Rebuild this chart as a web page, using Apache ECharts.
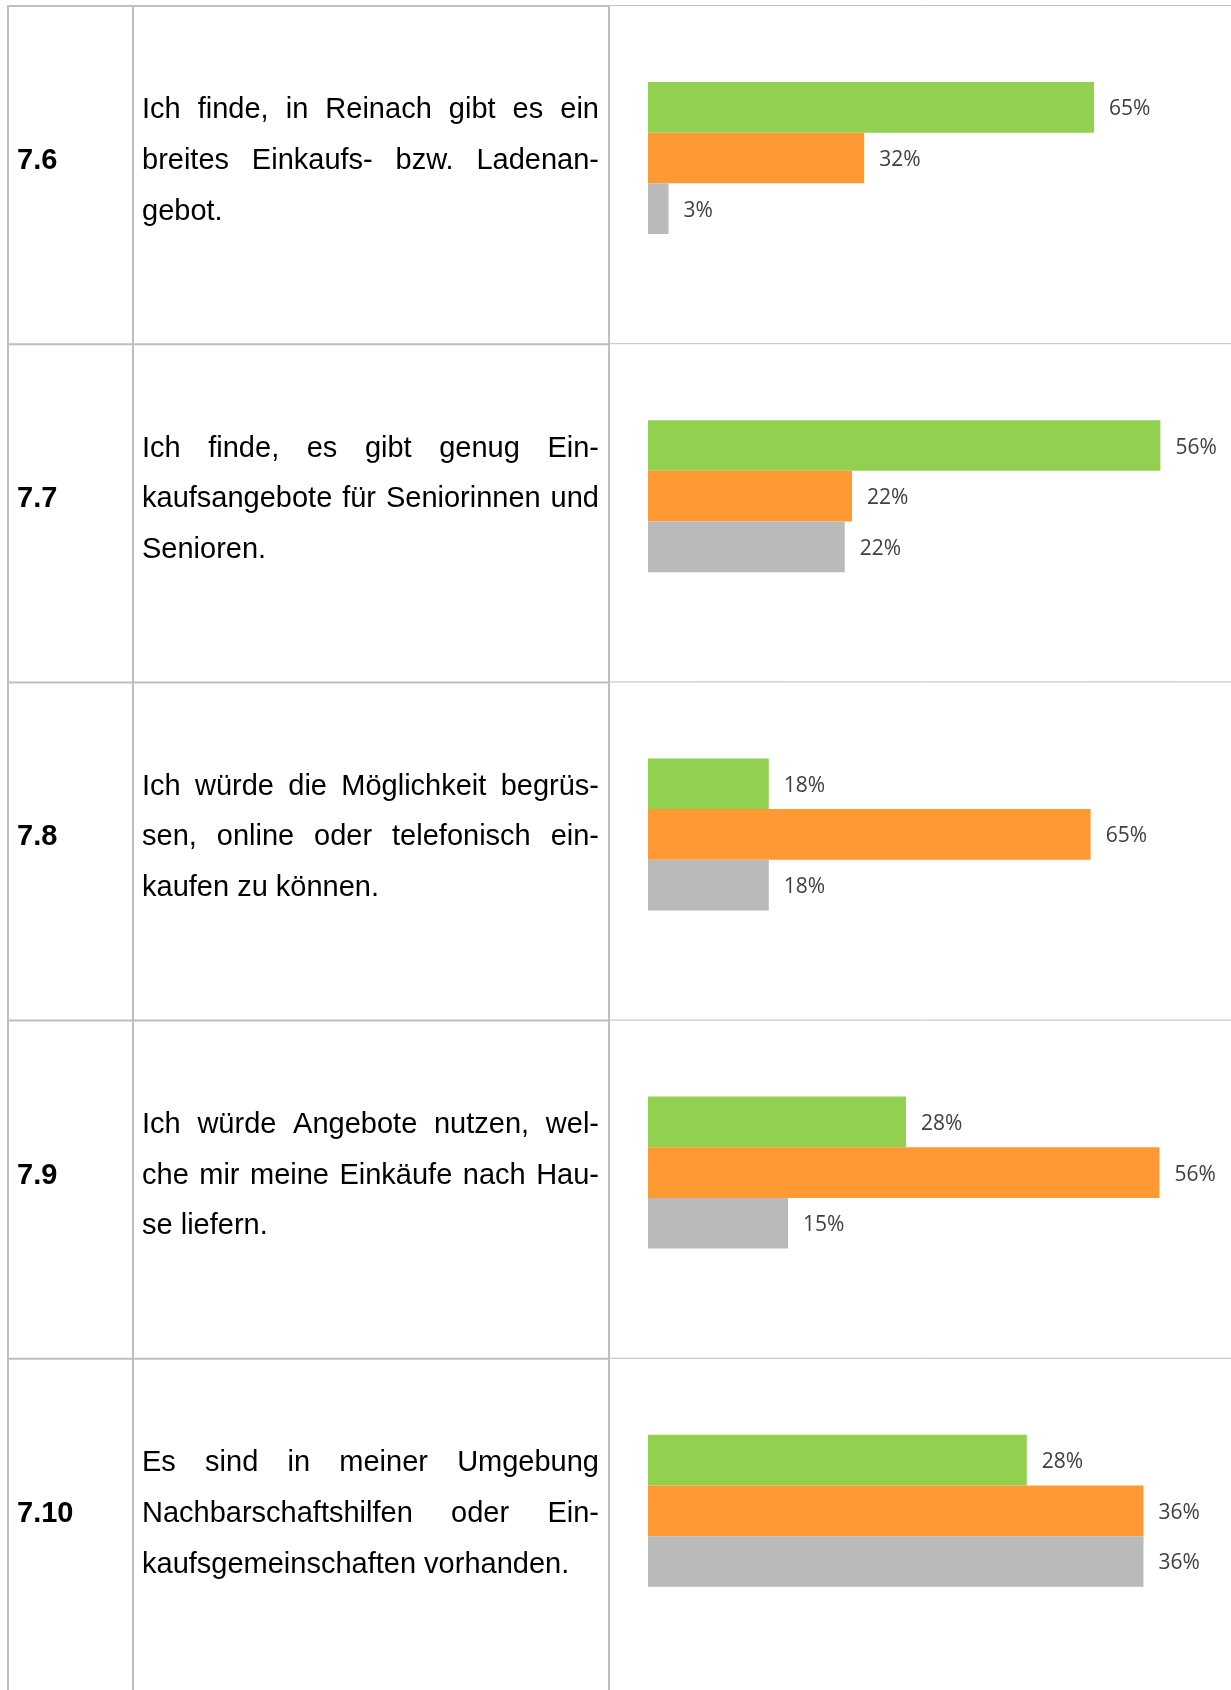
<!DOCTYPE html>
<html>
<head>
<meta charset="utf-8">
<script src="https://cdn.jsdelivr.net/npm/echarts@6/dist/echarts.min.js"></script>
<style>
  html, body { margin: 0; padding: 0; background: #fff; }
  #chart { width: 1231px; height: 1690px; }
</style>
</head>
<body>
<div id="chart"></div>
<script>
// ---- data ----
const itemNumbers = ['7.6', '7.7', '7.8', '7.9', '7.10'];
const statementLines = [
  ['Ich finde, in Reinach gibt es ein', 'breites Einkaufs- bzw. Ladenan-', 'gebot.'],
  ['Ich finde, es gibt genug Ein-', 'kaufsangebote für Seniorinnen und', 'Senioren.'],
  ['Ich würde die Möglichkeit begrüs-', 'sen, online oder telefonisch ein-', 'kaufen zu können.'],
  ['Ich würde Angebote nutzen, wel-', 'che mir meine Einkäufe nach Hau-', 'se liefern.'],
  ['Es sind in meiner Umgebung', 'Nachbarschaftshilfen oder Ein-', 'kaufsgemeinschaften vorhanden.']
];
const responseSlots = ['1', '2', '3'];
const greenValues  = [65, 56, 17.6, 28.2, 27.6];
const orangeValues = [31.5, 22.3, 64.5, 55.9, 36.1];
const grayValues   = [3, 21.5, 17.6, 15.3, 36.1];
const axisMaxima   = [80, 60, 80, 60, 40];

// ---- layout / style ----
const ROW0 = 6, ROWH = 338.2;
const COLX = [8, 133, 609];
const TEXT_X = 142, TEXT_R = 599;
const LINE_COLOR = '#bfbfbf';
const BODY_FONT = '29px "Liberation Sans", Arial, sans-serif';
const NUM_FONT = 'bold 29px "Liberation Sans", Arial, sans-serif';
const COLORS = ['#92d050', '#ff9933', '#bababa'];

const measureCtx = document.createElement('canvas').getContext('2d');
measureCtx.font = BODY_FONT;

const graphics = [];
// horizontal lines
for (let i = 0; i < 5; i++) {
  const y = ROW0 + i * ROWH;
  graphics.push({ type: 'line', silent: true, shape: { x1: 7, y1: y, x2: 610, y2: y }, style: { stroke: LINE_COLOR, lineWidth: 2 } });
  graphics.push({ type: 'line', silent: true, shape: { x1: 610, y1: y - 0.5, x2: 1231, y2: y - 0.5 }, style: { stroke: LINE_COLOR, lineWidth: 1 } });
}
// vertical lines
COLX.forEach(x => {
  graphics.push({ type: 'line', silent: true, shape: { x1: x, y1: 5, x2: x, y2: 1690 }, style: { stroke: LINE_COLOR, lineWidth: 2 } });
});

// texts
itemNumbers.forEach((num, i) => {
  const top = ROW0 + i * ROWH;
  const midY = top + 155;
  graphics.push({ type: 'text', silent: true, style: { text: num, x: 17, y: midY, font: NUM_FONT, fill: '#000', textVerticalAlign: 'middle' } });
  const lines = statementLines[i];
  lines.forEach((line, li) => {
    const y = midY + (li - 1) * 50.7;
    const isLast = li === lines.length - 1;
    const words = line.split(' ');
    if (isLast || words.length < 2) {
      graphics.push({ type: 'text', silent: true, style: { text: line, x: TEXT_X, y: y, font: BODY_FONT, fill: '#000', textVerticalAlign: 'middle' } });
    } else {
      const widths = words.map(w => measureCtx.measureText(w).width);
      const sum = widths.reduce((a, b) => a + b, 0);
      const gap = (TEXT_R - TEXT_X - sum) / (words.length - 1);
      let x = TEXT_X;
      words.forEach((w, wi) => {
        graphics.push({ type: 'text', silent: true, style: { text: w, x: x, y: y, font: BODY_FONT, fill: '#000', textVerticalAlign: 'middle' } });
        x += widths[wi] + gap;
      });
    }
  });
});

const grids = [], xAxes = [], yAxes = [], series = [];
itemNumbers.forEach((num, i) => {
  const top = ROW0 + i * ROWH;
  grids.push({ left: 648, top: top + 76, width: 549, height: 152 });
  xAxes.push({ gridIndex: i, type: 'value', min: 0, max: axisMaxima[i], show: false });
  yAxes.push({ gridIndex: i, type: 'category', data: responseSlots, inverse: true, show: false });
  const vals = [greenValues[i], orangeValues[i], grayValues[i]];
  series.push({
    type: 'bar', name: num, xAxisIndex: i, yAxisIndex: i,
    barCategoryGap: '0%', silent: true,
    data: vals.map((v, k) => ({ value: v, itemStyle: { color: COLORS[k] } })),
    label: {
      show: true, position: 'right', distance: 15, offset: [0, 2],
      formatter: p => Math.round(p.value) + '%',
      fontFamily: '"Open Sans", sans-serif', fontSize: 21, color: '#404040'
    }
  });
});

const chart = echarts.init(document.getElementById('chart'), null, { renderer: 'canvas' });
chart.setOption({
  animation: false,
  backgroundColor: '#fff',
  grid: grids,
  xAxis: xAxes,
  yAxis: yAxes,
  series: series,
  graphic: graphics
});
</script>
</body>
</html>
